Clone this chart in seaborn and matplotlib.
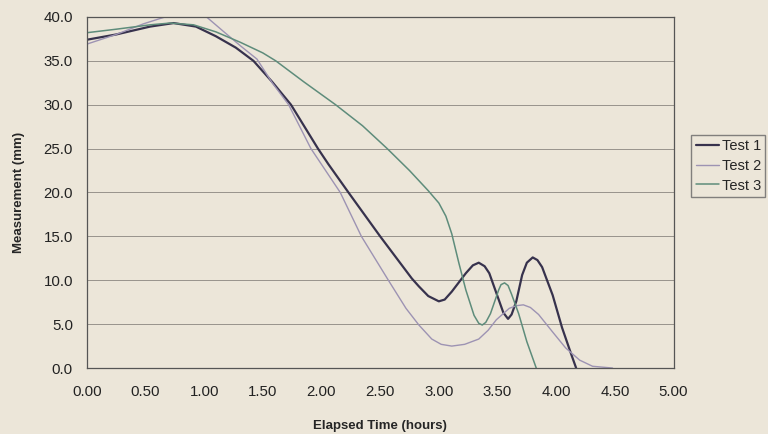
import matplotlib
matplotlib.use("Agg")
import matplotlib.pyplot as plt
import pandas as pd
import seaborn as sns

# values (hours, mm)
TEST1_T = [0.00, 0.25, 0.54, 0.74, 0.93, 1.10, 1.27, 1.42, 1.58, 1.74, 1.97, 2.06, 2.23, 2.50,
           2.77, 2.83, 2.91, 3.00, 3.05, 3.11, 3.23, 3.29, 3.34, 3.39, 3.43, 3.51, 3.55, 3.59,
           3.62, 3.66, 3.71, 3.75, 3.80, 3.84, 3.88, 3.97, 4.05, 4.13, 4.17]
TEST1_V = [37.4, 38.0, 38.9, 39.3, 38.9, 37.8, 36.5, 35.0, 32.6, 30.0, 25.0, 23.2, 20.0, 15.0,
           10.2, 9.3, 8.2, 7.6, 7.8, 8.7, 10.8, 11.7, 12.0, 11.6, 10.8, 7.8, 6.3, 5.6,
           6.1, 7.6, 10.6, 12.0, 12.6, 12.3, 11.5, 8.3, 4.6, 1.5, 0.0]

TEST2_T = [0.00, 0.25, 0.48, 0.62, 0.72, 0.85, 0.97, 1.02, 1.16, 1.31, 1.45, 1.58, 1.72, 1.91,
           2.06, 2.16, 2.34, 2.57, 2.72, 2.83, 2.94, 3.02, 3.11, 3.22, 3.34, 3.42, 3.49, 3.60,
           3.66, 3.72, 3.78, 3.85, 3.97, 4.08, 4.20, 4.31, 4.48]
TEST2_V = [36.9, 38.0, 39.2, 39.8, 40.2, 40.4, 40.2, 40.0, 38.4, 36.7, 35.2, 32.5, 30.0, 25.0,
           22.0, 20.0, 15.0, 10.0, 6.8, 4.9, 3.3, 2.7, 2.5, 2.7, 3.3, 4.3, 5.5, 6.8,
           7.1, 7.2, 6.9, 6.1, 4.1, 2.3, 0.9, 0.2, 0.0]

TEST3_T = [0.00, 0.25, 0.54, 0.71, 0.91, 1.10, 1.31, 1.50, 1.61, 1.85, 2.12, 2.35, 2.56, 2.75,
           2.91, 3.00, 3.06, 3.11, 3.17, 3.23, 3.30, 3.34, 3.37, 3.40, 3.44, 3.51, 3.53, 3.56,
           3.59, 3.62, 3.68, 3.75, 3.83]
TEST3_V = [38.2, 38.6, 39.1, 39.3, 39.1, 38.3, 37.1, 35.9, 35.0, 32.6, 30.0, 27.6, 25.0, 22.5,
           20.2, 18.8, 17.3, 15.3, 12.0, 8.9, 6.0, 5.1, 4.9, 5.2, 6.2, 8.9, 9.5, 9.7,
           9.4, 8.4, 6.2, 3.0, 0.0]

SERIES = ["Test 1", "Test 2", "Test 3"]
COLORS = ["#37324d", "#9d93b3", "#5e8c7b"]
WIDTHS = [1.6, 1.0, 1.1]

X_TICKS = [0.0, 0.5, 1.0, 1.5, 2.0, 2.5, 3.0, 3.5, 4.0, 4.5, 5.0]
Y_TICKS = [0, 5, 10, 15, 20, 25, 30, 35, 40]

BG = "#ece6d9"

sns.set_style("white", {"axes.facecolor": BG, "figure.facecolor": BG})
plt.rcParams["font.family"] = ["Liberation Sans", "DejaVu Sans"]

fig = plt.figure(figsize=(7.68, 4.34), dpi=100)
ax = fig.add_axes([0.113, 0.152, 0.764, 0.809])

data = {
    "Test 1": (TEST1_T, TEST1_V),
    "Test 2": (TEST2_T, TEST2_V),
    "Test 3": (TEST3_T, TEST3_V),
}

for name, color, lw in zip(SERIES, COLORS, WIDTHS):
    t, v = data[name]
    df = pd.DataFrame({"t": t, "v": v})
    sns.lineplot(data=df, x="t", y="v", ax=ax, color=color, linewidth=lw,
                 label=name, sort=False, legend=False)

ax.set_xlim(0, 5)
ax.set_ylim(0, 40)
ax.set_xticks(X_TICKS)
ax.set_yticks(Y_TICKS)
ax.set_xticklabels([f"{x:.2f}" for x in X_TICKS], fontsize=10.8)
ax.set_yticklabels([f"{y:.1f}" for y in Y_TICKS], fontsize=10.8)
ax.tick_params(axis="x", direction="in", length=4, pad=12, color="#555555", labelcolor="#222222")
ax.tick_params(axis="y", direction="out", length=4, pad=6, color="#555555", labelcolor="#222222")

ax.grid(axis="y", color="#8a8680", linewidth=0.6)
ax.set_axisbelow(True)
for side in ["left", "bottom", "top", "right"]:
    ax.spines[side].set_visible(True)
    ax.spines[side].set_color("#555555")
    ax.spines[side].set_linewidth(0.9)

ax.set_xlabel("Elapsed Time (hours)", fontsize=9.5, fontweight="bold", labelpad=15)
ax.set_ylabel("Measurement (mm)", fontsize=9.5, fontweight="bold", labelpad=13)

handles, labels = ax.get_legend_handles_labels()
fig.legend(handles, labels, loc="upper left", bbox_to_anchor=(0.900, 0.69),
           frameon=True, fancybox=False, edgecolor="#666666", facecolor=BG,
           fontsize=10.5, handlelength=1.6, handletextpad=0.2, labelspacing=0.4,
           borderpad=0.3, borderaxespad=0)

fig.savefig("out.png", dpi=100, facecolor=BG)
